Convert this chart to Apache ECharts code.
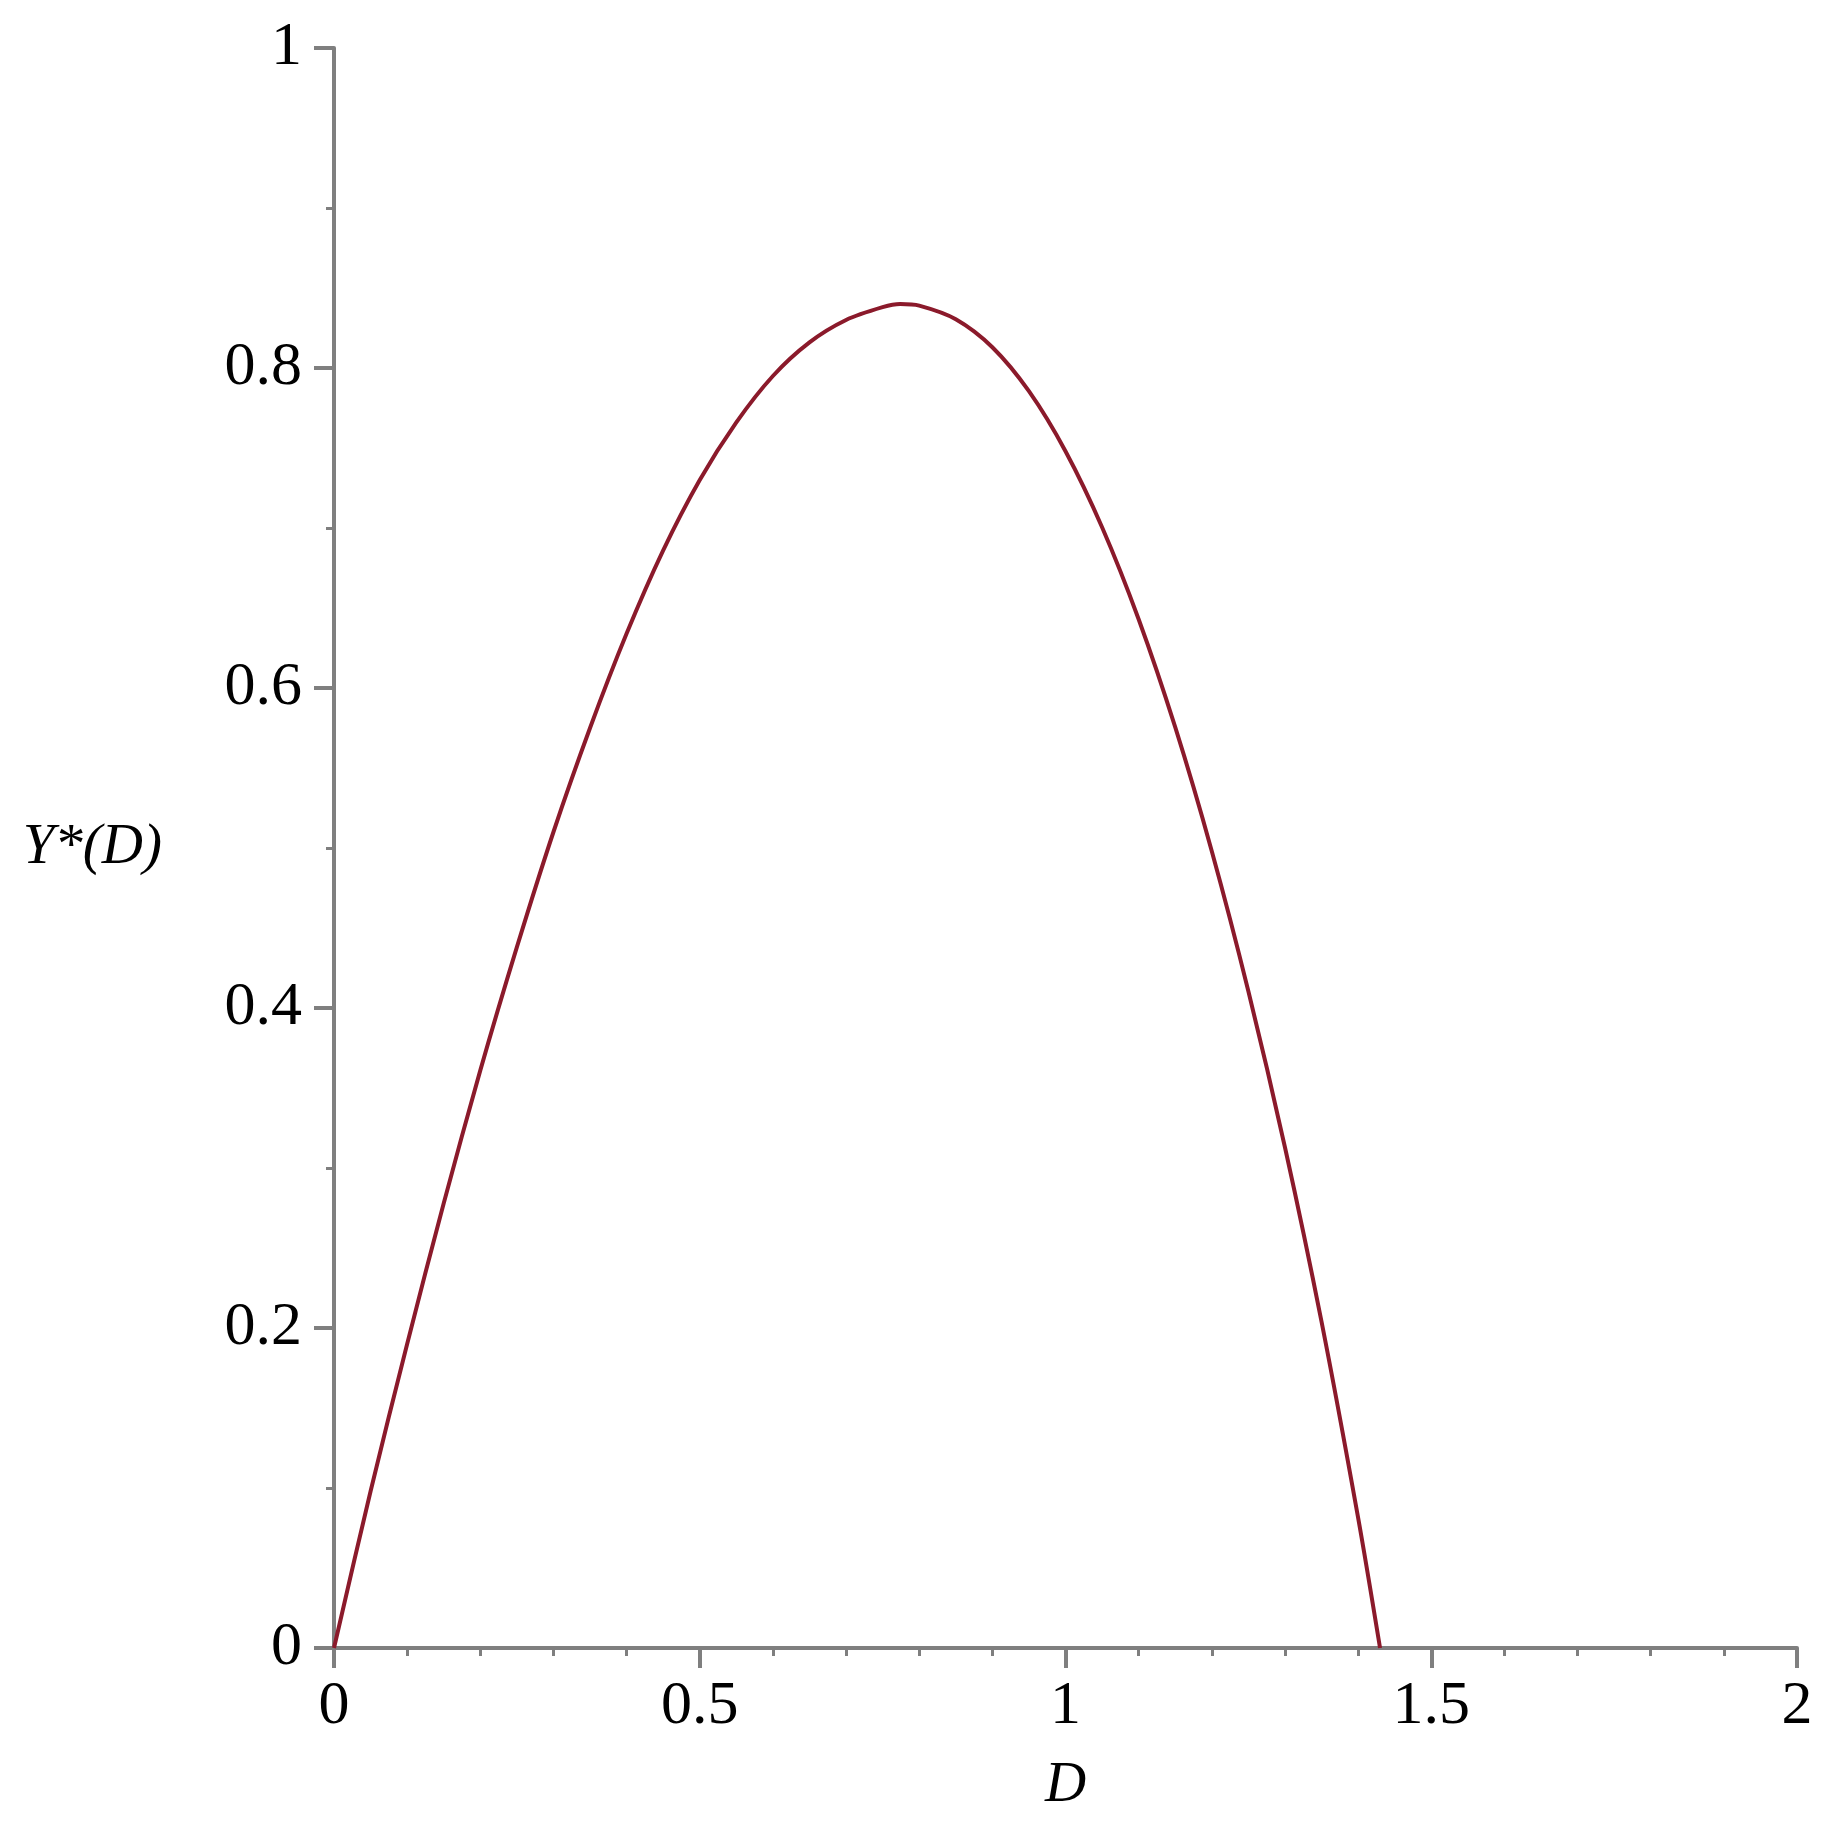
<!DOCTYPE html>
<html>
<head>
<meta charset="utf-8">
<script src="https://cdn.jsdelivr.net/npm/echarts@6/dist/echarts.min.js"></script>
<style>
  html, body { margin: 0; padding: 0; background: #fff; }
  #chart { width: 1832px; height: 1832px; }
</style>
</head>
<body>
<div id="chart"></div>
<script>
// values
const dValues = [0, 0.05, 0.1, 0.15, 0.2, 0.25, 0.3, 0.35, 0.4, 0.45,
  0.5, 0.55, 0.6, 0.65, 0.7, 0.75, 0.774, 0.8, 0.85, 0.9,
  0.95, 1.0, 1.05, 1.1, 1.15, 1.2, 1.25, 1.3, 1.35, 1.4,
  1.43];
const yValues = [0, 0.098, 0.19, 0.278, 0.361, 0.438, 0.510, 0.575, 0.634, 0.686,
  0.730, 0.766, 0.795, 0.816, 0.830, 0.838, 0.840, 0.839, 0.8305, 0.813,
  0.7855, 0.748, 0.7005, 0.643, 0.5755, 0.498, 0.4105, 0.313, 0.204, 0.0815,
  0];

const xName = "D";
const yName = "Y*(D)";

const axisGray = "#7f7f7f";
const labelFont = "Liberation Serif";

const chart = echarts.init(document.getElementById("chart"));

const option = {
  animation: false,
  backgroundColor: "#fff",
  grid: { left: 334, right: 35, top: 48, bottom: 184 },
  xAxis: {
    type: "value",
    min: 0,
    max: 2,
    interval: 0.5,
    name: xName,
    nameLocation: "middle",
    nameGap: 110,
    nameTextStyle: {
      fontFamily: labelFont,
      fontStyle: "italic",
      fontSize: 57,
      color: "#000",
    },
    axisLine: { show: true, lineStyle: { color: axisGray, width: 4 } },
    axisTick: { show: true, length: 20, lineStyle: { color: axisGray, width: 4 } },
    minorTick: { show: true, splitNumber: 5, length: 8, lineStyle: { color: axisGray, width: 3 } },
    axisLabel: {
      margin: 28,
      fontFamily: labelFont,
      fontSize: 62,
      color: "#000",
    },
    splitLine: { show: false },
  },
  yAxis: {
    type: "value",
    min: 0,
    max: 1,
    interval: 0.2,
    name: yName,
    nameLocation: "middle",
    nameRotate: 0,
    nameGap: 172,
    nameTextStyle: {
      fontFamily: labelFont,
      fontStyle: "italic",
      fontSize: 57,
      color: "#000",
    },
    axisLine: { show: true, lineStyle: { color: axisGray, width: 4 } },
    axisTick: { show: true, length: 20, lineStyle: { color: axisGray, width: 4 } },
    minorTick: { show: true, splitNumber: 2, length: 8, lineStyle: { color: axisGray, width: 3 } },
    axisLabel: {
      margin: 32,
      fontFamily: labelFont,
      fontSize: 62,
      color: "#000",
    },
    splitLine: { show: false },
  },
  series: [
    {
      type: "line",
      data: dValues.map((d, i) => [d, yValues[i]]),
      showSymbol: false,
      smooth: 0.3,
      lineStyle: { color: "#8b1a2b", width: 4 },
    },
  ],
};

chart.setOption(option);
</script>
</body>
</html>
